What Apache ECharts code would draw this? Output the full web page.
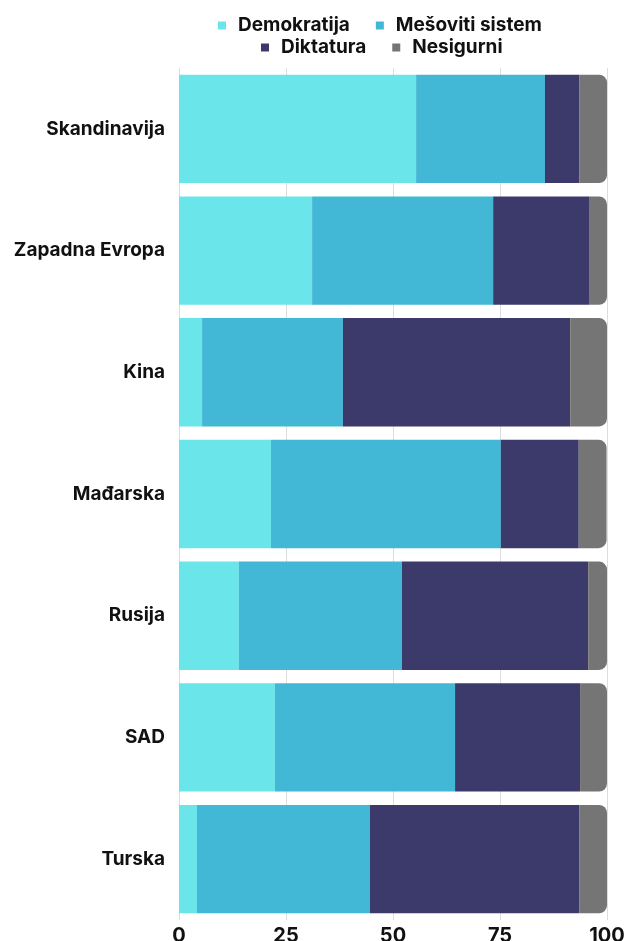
<!DOCTYPE html>
<html>
<head>
<meta charset="utf-8">
<script src="https://cdn.jsdelivr.net/npm/echarts@6/dist/echarts.min.js"></script>
<style>
html, body { margin: 0; padding: 0; background: #fff; }
#chart { width: 627px; height: 941px; }
</style>
</head>
<body>
<div id="chart"></div>
<script>
const countries = ['Skandinavija', 'Zapadna Evropa', 'Kina', 'Mađarska', 'Rusija', 'SAD', 'Turska']
const demokratija = [55.4, 31.1, 5.4, 21.5, 14.0, 22.4, 4.2]
const mesoviti = [30.1, 42.3, 32.9, 53.7, 38.1, 42.1, 40.4]
const diktatura = [8.0, 22.4, 53.1, 18.2, 43.5, 29.2, 48.9]
const nesigurni = [6.5, 4.2, 8.6, 6.5, 4.4, 6.3, 6.5]
const xTicks = [0, 25, 50, 75, 100]

const font = 'Inter, "Liberation Sans", sans-serif'
const chart = echarts.init(document.getElementById('chart'))

function makeSeries (name, data, color, last) {
  return {
    name: name,
    type: 'bar',
    stack: 'total',
    data: data,
    barCategoryGap: '11%',
    itemStyle: {
      color: color,
      borderRadius: last ? [0, 8, 8, 0] : 0
    },
    emphasis: { disabled: true }
  }
}

// two legends so the rows sit close together
function makeLegend (left, top, names) {
  return {
    top: top,
    left: left,
    padding: 0,
    itemWidth: 8,
    itemHeight: 8,
    itemGap: 26,
    icon: 'rect',
    textStyle: { fontFamily: font, fontSize: 19, fontWeight: 700, color: '#111', padding: [0, 0, 0, 7] },
    data: names
  }
}

const option = {
  animation: false,
  legend: [
    makeLegend(218, 16, ['Demokratija', 'Mešoviti sistem']),
    makeLegend(261, 38, ['Diktatura', 'Nesigurni'])
  ],
  grid: { left: 179, right: 20, top: 68, bottom: 21, containLabel: false, outerBoundsMode: 'none' },
  xAxis: {
    type: 'value',
    min: 0,
    max: 100,
    interval: 25,
    axisLine: { show: false },
    axisTick: { show: false },
    splitLine: { show: true, lineStyle: { color: '#dddddd', width: 1 } },
    axisLabel: {
      fontFamily: font,
      fontSize: 20,
      fontWeight: 700,
      color: '#111',
      margin: 6,
      formatter: function (v) { return xTicks.indexOf(v) >= 0 ? String(v) : '' }
    }
  },
  yAxis: {
    type: 'category',
    inverse: true,
    data: countries,
    axisLine: { show: false },
    axisTick: { show: false },
    axisLabel: { fontFamily: font, fontSize: 19, fontWeight: 700, color: '#111', margin: 14 }
  },
  series: [
    makeSeries('Demokratija', demokratija, '#6ae5e9', false),
    makeSeries('Mešoviti sistem', mesoviti, '#42b8d6', false),
    makeSeries('Diktatura', diktatura, '#3c3a6b', false),
    makeSeries('Nesigurni', nesigurni, '#757575', true)
  ]
}

chart.setOption(option)
window.addEventListener('resize', function () { chart.resize() })
</script>
</body>
</html>
